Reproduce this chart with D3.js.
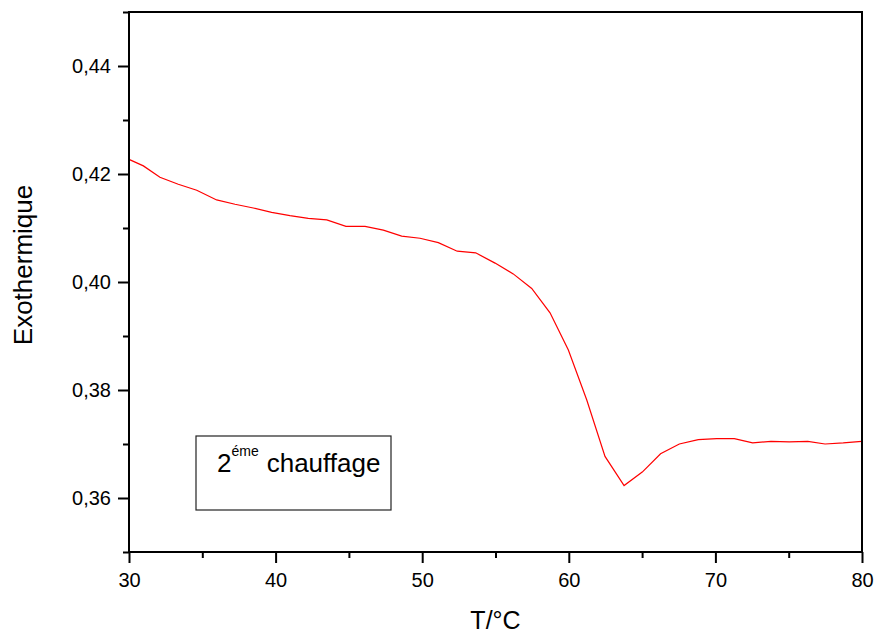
<!DOCTYPE html>
<html>
<head>
<meta charset="utf-8">
<script src="https://cdn.jsdelivr.net/npm/d3@7"></script>
<style>
  body { margin: 0; background: #fff; }
  svg { font-family: "Liberation Sans", Arial, sans-serif; }
</style>
</head>
<body>
<div id="chart"></div>
<script>
// temperature (°C) and signal
const temps = [30.0, 30.98, 32.11, 33.36, 34.62, 35.98, 37.23, 38.48, 39.73, 40.98,
  42.23, 43.49, 44.80, 46.10, 47.35, 48.60, 49.85, 51.10, 52.39, 53.65,
  54.97, 56.21, 57.47, 58.72, 59.97, 61.22, 62.47, 63.77, 65.01, 66.26,
  67.54, 68.83, 70.09, 71.29, 72.54, 73.79, 75.04, 76.30, 77.48, 78.72, 79.98];
const exo = [0.4227, 0.4215, 0.4194, 0.4181, 0.4170, 0.4152, 0.4144, 0.4137, 0.4129, 0.4123,
  0.4118, 0.4115, 0.4103, 0.4103, 0.4096, 0.4085, 0.4081, 0.4073, 0.4057, 0.4054,
  0.4035, 0.4015, 0.3988, 0.3943, 0.3874, 0.3782, 0.3677, 0.3623, 0.3648, 0.3682,
  0.3700, 0.3708, 0.3710, 0.3710, 0.3702, 0.3705, 0.3704, 0.3705, 0.3700, 0.3702, 0.3705];

const xTicks = [30, 40, 50, 60, 70, 80];
const xMinor = [35, 45, 55, 65, 75];
const yTicks = [0.36, 0.38, 0.40, 0.42, 0.44];
const yMinor = [0.35, 0.37, 0.39, 0.41, 0.43, 0.45];

const W = 876, H = 633;
const margin = {top: 12, right: 14, bottom: 81, left: 129};
const width = W - margin.left - margin.right;
const height = H - margin.top - margin.bottom;

const svg = d3.select("#chart").append("svg")
    .attr("width", W)
    .attr("height", H);

const g = svg.append("g")
    .attr("transform", `translate(${margin.left},${margin.top})`);

const x = d3.scaleLinear().domain([30, 80]).range([0, width]);
const y = d3.scaleLinear().domain([0.35, 0.45]).range([height, 0]);

const fmt = d => d3.format(".2f")(d).replace(".", ",");

// minor ticks
g.append("g")
    .attr("transform", `translate(0,${height})`)
    .call(d3.axisBottom(x).tickValues(xMinor).tickSize(6).tickFormat(""))
    .call(a => a.select(".domain").remove())
    .selectAll("line").attr("stroke-width", 2);
g.append("g")
    .call(d3.axisLeft(y).tickValues(yMinor).tickSize(6).tickFormat(""))
    .call(a => a.select(".domain").remove())
    .selectAll("line").attr("stroke-width", 2);

// major ticks
const xAxis = g.append("g")
    .attr("transform", `translate(0,${height})`)
    .call(d3.axisBottom(x).tickValues(xTicks).tickSize(11).tickPadding(10).tickFormat(d3.format("d")))
    .call(a => a.select(".domain").remove());
xAxis.selectAll("line").attr("stroke-width", 2);
xAxis.selectAll("text").style("font-size", "20px").attr("fill", "#000");

const yAxis = g.append("g")
    .call(d3.axisLeft(y).tickValues(yTicks).tickSize(11).tickPadding(7).tickFormat(fmt))
    .call(a => a.select(".domain").remove());
yAxis.selectAll("line").attr("stroke-width", 2);
yAxis.selectAll("text").style("font-size", "20px").attr("fill", "#000");

// curve
const line = d3.line()
    .x((d, i) => x(temps[i]))
    .y(d => y(d));

g.append("path")
    .attr("d", line(exo))
    .attr("fill", "none")
    .attr("stroke", "#ff0000")
    .attr("stroke-width", 1.2);

// frame
g.append("rect")
    .attr("width", width)
    .attr("height", height)
    .attr("fill", "none")
    .attr("stroke", "#000")
    .attr("stroke-width", 2);

// legend box
const leg = svg.append("g").attr("transform", "translate(196,436)");
leg.append("rect")
    .attr("width", 195)
    .attr("height", 74)
    .attr("fill", "#fff")
    .attr("stroke", "#222")
    .attr("stroke-width", 1.2);
const lt = leg.append("text")
    .attr("x", 21)
    .attr("y", 36)
    .style("font-size", "26px")
    .attr("fill", "#000");
lt.append("tspan").text("2");
lt.append("tspan").attr("dy", -16).style("font-size", "14px").text("éme");
lt.append("tspan").attr("dy", 16).attr("dx", 8).text("chauffage");

// axis titles
svg.append("text")
    .attr("x", margin.left + width / 2)
    .attr("y", 629)
    .attr("text-anchor", "middle")
    .style("font-size", "25px")
    .text("T/°C");

svg.append("text")
    .attr("transform", "translate(32,265) rotate(-90)")
    .attr("text-anchor", "middle")
    .style("font-size", "26px")
    .text("Exothermique");
</script>
</body>
</html>
